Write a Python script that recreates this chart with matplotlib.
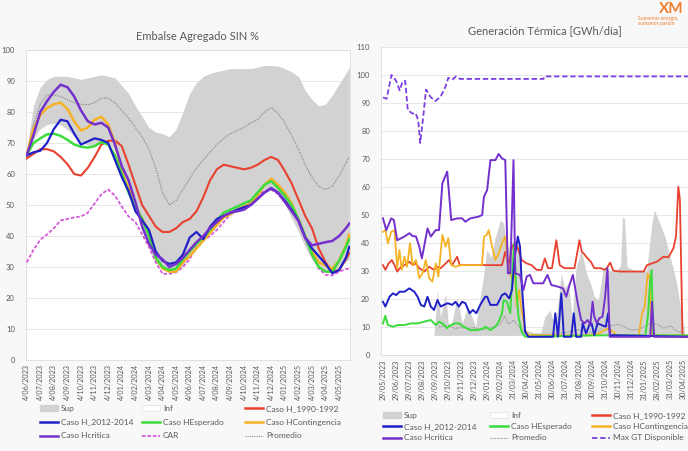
import matplotlib.pyplot as plt
import matplotlib.patches as mpatches
from matplotlib.lines import Line2D
import numpy as np

plt.rcParams['font.family'] = ['Lato', 'DejaVu Sans']

# ---------------- Embalse Agregado SIN % ----------------
# x = months after 4/06/2023
emb_x = np.append(np.arange(0, 24, 0.5), 23.75)
emb_labels = ['4/06/2023', '4/07/2023', '4/08/2023', '4/09/2023', '4/10/2023', '4/11/2023',
              '4/12/2023', '4/01/2024', '4/02/2024', '4/03/2024', '4/04/2024', '4/05/2024',
              '4/06/2024', '4/07/2024', '4/08/2024', '4/09/2024', '4/10/2024', '4/11/2024',
              '4/12/2024', '4/01/2025', '4/02/2025', '4/03/2025', '4/04/2025', '4/05/2025']

emb_sup = [68, 82, 88, 90.5, 91.5, 91.5, 91.5, 91, 90.5, 91,
           91.5, 92, 91.5, 91, 88.5, 86, 82, 78.5, 75, 73.5,
           73, 72, 74.5, 80, 86, 89.5, 91.5, 92.5, 93, 93.5,
           94, 94, 94, 94, 94.5, 95, 95, 94.8, 94, 93,
           91.5, 87, 84, 82, 82.5, 85.5, 89, 92.5, 94.5]
emb_inf = [65, 70, 74, 75.5, 76, 75.5, 74, 72, 70, 69,
           69, 70, 70, 67, 62, 56, 49, 42, 36, 31,
           29, 28, 28, 29.5, 33, 36.5, 39, 42, 44, 45.5,
           46.5, 47.5, 48.5, 50, 52.5, 54.5, 55, 53.5, 50, 45.5,
           41, 36, 32, 29.5, 28.5, 28, 29, 31, 32]
emb_prom = [66, 76, 82.5, 85.5, 85.5, 85, 84, 83, 82.5, 82.3,
            83, 84.5, 84.5, 83, 80.5, 78, 75, 72, 68, 62,
            54, 50, 51.5, 55, 58.5, 62, 64.5, 67, 69.5, 71.5,
            73, 74, 75, 76.5, 77.5, 80, 81.5, 79.5, 76.5, 72.5,
            68, 63, 59, 56, 55, 56, 59.5, 63.5, 65.5]
emb_critica = [66, 72.5, 80, 83.5, 86.5, 88.8, 88, 85, 80.5, 77,
               76, 76.5, 75, 69.5, 62.5, 58, 51, 43, 37.5, 34,
               32.5, 30, 31, 33, 35.5, 38, 40, 42.5, 44.5, 46.5,
               47.5, 48, 48.5, 50, 52, 54, 55.5, 54, 51, 48,
               45, 39.5, 37, 37.5, 38, 38.4, 40, 42.5, 44]
emb_h2012 = [66, 67, 67.5, 70, 74.5, 77.5, 77, 73, 69.5, 70.5,
             71.5, 71, 70, 64.5, 59, 54.5, 48, 45, 42, 35,
             32, 31, 31.5, 34, 39.5, 41.3, 39, 43, 45.5, 46.5,
             47.5, 48.5, 49.3, 50, 52, 54, 55.3, 54, 51.5, 48.5,
             45, 39.5, 36, 33.5, 31, 28, 29, 33, 36.5]
emb_esperado = [66, 70, 71.5, 72.8, 73, 72.3, 71, 69.5, 68.8, 68.5,
                69, 70.3, 69.5, 66, 60, 54, 49.5, 45.5, 40, 33,
                30, 29, 29.5, 32.5, 35, 37.5, 39.5, 42, 45, 47.5,
                48.5, 49.5, 50.5, 51.5, 54, 56.5, 57.7, 55.5, 53, 50,
                45.5, 40, 34, 30, 28.5, 28.5, 32, 36.5, 39]
emb_conting = [66, 74.5, 79, 81.3, 82.5, 83, 81, 77, 74, 75,
               77.5, 78.5, 76, 70, 61, 55.5, 49.5, 45.5, 41.5, 33,
               29.5, 28.5, 28.5, 31.5, 33.5, 36, 38.5, 41, 43.5, 46,
               47, 48.5, 49.5, 50.5, 53, 56.5, 58.5, 56.5, 54, 50.5,
               45.5, 40, 35, 31.5, 30.5, 29.5, 32, 37, 40.5]
emb_h1990 = [65, 66.5, 68, 68, 67.3, 65.5, 63.2, 60, 59.5, 62,
             65.5, 69.5, 70.7, 70.8, 69, 63, 56.5, 50, 46.5, 43,
             41.3, 41.3, 42.5, 44.5, 45.5, 48, 52.5, 58, 61.5, 63,
             62.5, 62, 61.5, 62, 63, 64.5, 65.5, 64.5, 61, 57,
             51.8, 46.5, 42.5, 36, 31.5, 28.5, 29, 32.5, 34.5]
emb_car = [31.5, 35.5, 38.8, 40.5, 42.5, 45, 45.5, 46, 46.3, 47.5,
           50.5, 53.5, 55, 53, 49.5, 46.3, 44.5, 40.5, 36.5, 31.5,
           27.8, 27.8, 28.3, 30, 32.5, 36.5, 38.5, 40, 42, 44.5,
           47, 48.5, 49.5, 51, 53, 54.5, 55, 53.5, 51, 48.5,
           44.5, 39, 34, 29.5, 27.5, 27.3, 28.5, 29.3, 29.5]

# ---------------- Generación Térmica [GWh/día] ----------------
# x = months after 29/05/2023
gt_labels = ['29/05/2023', '29/06/2023', '29/07/2023', '29/08/2023', '29/09/2023', '29/10/2023',
             '29/11/2023', '29/12/2023', '29/01/2024', '29/02/2024', '31/03/2024', '30/04/2024',
             '31/05/2024', '30/06/2024', '31/07/2024', '31/08/2024', '30/09/2024', '31/10/2024',
             '30/11/2024', '31/12/2024', '31/01/2025', '28/02/2025', '31/03/2025', '30/04/2025']

gt_sup_x = [0, 3.9, 4.17, 4.4, 4.8, 5.05, 5.3, 5.68, 6.06, 6.5, 6.82, 7.1, 7.32, 7.7, 7.95,
            8.3, 8.6, 9.0, 9.25, 9.5, 9.8, 10.2, 10.5, 10.7, 10.9, 11.5, 12.1, 12.4, 12.8,
            13.2, 13.66, 13.9, 14.2, 14.5, 14.8, 15.2, 15.6, 15.9, 16.2, 16.5, 16.9, 17.4,
            17.9, 18.2, 18.35, 18.5, 18.7, 19.2, 20.2, 20.6, 20.8, 21.1, 21.6, 22.0, 22.2,
            22.5, 22.9, 23.1]
gt_sup = [7, 7, 23, 13.7, 22, 9, 12, 20.8, 11.3, 17.3, 13.7, 10, 17.3, 28, 37.5,
          35, 42, 48.2, 47, 38, 40, 40, 39, 20, 9, 8, 8, 13.7, 16,
          10, 29.2, 24, 25.6, 13.7, 31.5, 37.5, 29, 25.6, 20.8, 19.6, 31.5, 30,
          30, 32, 49.4, 48.8, 31.5, 30.3, 30.3, 47, 51.8, 48.2, 42.3, 35, 31.5,
          25.6, 13.7, 8]
gt_inf = 7

gt_prom_x = [4.3, 5.0, 5.5, 6.0, 6.5, 7.0, 7.5, 8.0, 8.5, 9.0, 9.3, 9.6, 10.0, 10.5, 11.0,
             12.0, 13.0, 14.0, 15.0, 15.5, 16.0, 16.5, 17.0, 17.5, 18.0, 18.5, 19.0, 19.5,
             20.0, 20.5, 21.0, 21.5, 22.0, 22.5, 23.0]
gt_prom = [10, 10.5, 9.5, 9.8, 9.5, 9.8, 9, 9.5, 10, 11, 14, 11, 12.5, 9.5, 7.5,
           7.2, 7.5, 8, 9, 8.5, 8, 8.5, 10.5, 10.5, 11, 10, 9, 9,
           10, 11.5, 11, 9.5, 10.5, 8.5, 8]

gt_h1990_x = [0, 0.18, 0.43, 0.68, 0.88, 1.09, 1.39, 1.64, 2.02, 2.27, 2.53, 2.78, 3.16, 3.54,
              3.91, 4.17, 4.42, 4.8, 5.05, 5.3, 5.68, 5.88, 9.12, 9.37, 9.62, 9.88, 10.13,
              10.38, 10.63, 11.01, 11.39, 11.77, 12.14, 12.4, 12.65, 12.95, 13.28, 13.54,
              13.91, 14.67, 14.92, 15.05, 15.23, 15.43, 15.56, 15.93, 16.19, 16.7, 16.95,
              17.15, 17.4, 17.65, 18.2, 19.97, 20.23, 20.98, 21.49, 21.87, 22.25, 22.45,
              22.63, 22.75, 22.95, 23.4]
gt_h1990 = [32.1, 30.4, 32.7, 33.9, 32.1, 29.8, 31.5, 32.1, 33.3, 32.1, 32.7, 31, 29.8, 31.5,
            30.4, 31.5, 31, 32.7, 33.9, 32.1, 35.1, 32.1, 32.1, 36.9, 32.1, 38.7, 39.9,
            37.5, 33.9, 32.7, 32.1, 30.4, 30.4, 34.5, 31, 31, 41, 32.1,
            31, 31, 37.5, 41, 36.9, 36, 35.1, 33.3, 31, 31, 30.4,
            31, 33, 30.1, 29.8, 29.8, 32.1, 33.3, 35.1, 34.9, 38.1, 42.3,
            60.1, 55.4, 6.5, 6.5]

gt_h2012_x = [0, 0.18, 0.5, 0.76, 1.01, 1.26, 1.64, 2.02, 2.4, 2.65, 2.9, 3.16, 3.41, 3.66,
              3.91, 4.17, 4.42, 4.67, 4.97, 5.3, 5.56, 5.81, 6.06, 6.31, 6.64, 6.89, 7.15,
              7.45, 7.83, 7.98, 8.23, 8.74, 9.12, 9.37, 9.67, 9.88, 10.13, 10.33, 10.5,
              10.63, 10.89, 11.14, 13.03, 13.2, 13.41, 13.66, 13.86, 14.42, 14.62, 14.8,
              15.18, 15.3, 15.56, 15.81, 15.98, 16.19, 16.44, 16.74, 17.07, 17.25, 17.4, 23.4]
gt_h2012 = [19, 17.3, 20.8, 22, 21.4, 22.6, 22.6, 23.8, 22.6, 20.8, 17.9, 17.3, 20.8, 17.3,
            16.1, 19.6, 17.3, 17.9, 18.5, 17.9, 19, 17.3, 19, 18.5, 14.9, 16.1, 14.9,
            17.9, 20.8, 20.8, 17.9, 17.9, 21.4, 22, 20.2, 23.2, 36.3, 42.3, 38.7,
            25.6, 8.3, 6.5, 6.5, 14.9, 6.5, 22, 6.5, 6.5, 14.9, 6.5,
            6.5, 11.3, 7.7, 10.7, 11.3, 7.1, 11.3, 10.7, 10.1, 14.9, 7.1, 6.5]

gt_esperado_x = [0, 0.18, 0.38, 0.76, 1.14, 1.64, 2.15, 2.65, 3.16, 3.66, 4.04, 4.29, 4.55,
                 4.92, 5.18, 5.56, 5.81, 6.19, 6.69, 7.2, 7.7, 7.85, 8.23, 8.61, 8.86, 9.12,
                 9.24, 9.5, 9.75, 9.88, 10.05, 10.2, 10.38, 10.63, 10.89, 16.3, 17.3, 20.1,
                 20.3, 20.45, 20.58, 20.72, 23.4]
gt_esperado = [11.3, 14, 10.7, 10.1, 10.7, 10.7, 11.3, 11.3, 11.9, 12.5, 10.7, 11.9, 11.3,
               9.5, 10.7, 11.3, 11.3, 10.1, 8.9, 8.9, 9.5, 10.1, 8.9, 10.1, 11.9, 14.9,
               19.6, 19, 14.9, 25.6, 39.9, 24.4, 13.7, 8.3, 6.5, 7, 7, 7,
               14, 25, 30.4, 7, 7]

gt_conting_x = [0, 0.18, 0.38, 0.63, 0.88, 1.09, 1.26, 1.44, 1.64, 1.84, 2.07, 2.27, 2.53,
                2.78, 3.03, 3.28, 3.54, 3.79, 4.04, 4.24, 4.55, 4.8, 5.0, 5.23, 5.56, 5.93,
                7.58, 7.75, 7.95, 8.1, 8.36, 8.61, 8.86, 9.17, 9.37, 9.55, 9.88, 10.05,
                10.25, 10.43, 10.58, 10.89, 11.14, 15.5, 16.5, 17.0, 17.3, 17.7, 17.9,
                19.6, 19.85, 20.05, 20.28, 20.43, 20.58, 23.4]
gt_conting = [44, 44.6, 39.9, 44, 44.6, 31, 37.5, 30.4, 35.1, 31.5, 39.9, 32.1, 33.9,
              27.4, 29.2, 33.9, 27.4, 26.2, 32.7, 28, 42.9, 38.7, 41.7, 32.1, 31.5, 32.1,
              32.1, 42.3, 42.9, 44.6, 38.7, 33.9, 36.3, 40.5, 42.3, 32.7, 27, 33,
              17.3, 23.2, 17.3, 8.9, 7.1, 7, 7.5, 9, 9.5, 8, 7,
              7, 15, 17, 29, 28, 7, 7]

gt_critica_x = [0, 0.25, 0.63, 0.83, 1.09, 1.39, 1.64, 2.02, 2.27, 2.53, 2.78, 2.98, 3.41,
                3.66, 4.04, 4.29, 4.55, 4.92, 5.23, 5.68, 6.06, 6.31, 6.69, 7.32, 7.6, 7.73,
                7.98, 8.23, 8.61, 8.86, 9.12, 9.37, 9.57, 9.75, 10.0, 10.13, 10.5, 10.76,
                11.01, 11.26, 11.52, 11.89, 12.27, 12.6, 12.9, 13.41, 13.79, 14.04, 14.29,
                14.55, 14.92, 15.18, 15.43, 15.68, 15.88, 16.06, 16.19, 16.39, 16.57, 16.82,
                17.02, 17.2, 17.37, 20.48, 20.61, 20.78, 23.4]
gt_critica = [48.8, 44.6, 48.8, 48.2, 41, 41.7, 42.3, 43.5, 42.5, 42.3, 38.7, 34.5, 45.2,
              42.3, 44.6, 44.6, 61.3, 65.5, 48.2, 48.8, 48.8, 47.6, 48.8, 49.4, 50, 56.5,
              58.9, 69.6, 69.6, 71.8, 70.2, 69.6, 29.2, 29.2, 69.6, 29.2, 28.6, 23.2,
              28, 28.6, 25.6, 25.6, 25.6, 28.6, 25, 24.4, 23.8, 20.8, 25,
              28.6, 18.5, 12.5, 11.3, 12.5, 10.7, 19, 13.7, 11.3, 13.1, 13.7,
              20.8, 31, 6.5, 6.5, 19, 6.5, 6.5]

gt_maxgt_x = [0, 0.28, 0.65, 1.0, 1.28, 1.5, 1.7, 1.9, 2.28, 2.5, 2.7, 2.85, 3.08, 3.3,
              3.65, 4.0, 4.4, 4.78, 5.0, 5.3, 5.6, 5.9, 12.3, 12.35, 23.4]
gt_maxgt = [92, 91.5, 100, 98, 94.5, 97.7, 97.9, 87.4, 86.2, 86.4, 83.8, 75.7, 85, 94.8,
            92.1, 90.7, 92.1, 95.7, 99, 98.3, 99.5, 98.6, 98.6, 99.5, 99.5]

# colours
C_SUP = '#d2d2d2'
C_RED = '#e8412f'
C_BLUE = '#2020c8'
C_GREEN = '#3bdc3b'
C_ORANGE = '#f4b224'
C_PURPLE = '#7430cc'
C_CAR = '#d65ad8'
C_PROM = '#8c8c8c'
C_MAX = '#7d3fe0'
C_GRID = '#e3e3e3'
C_TXT = '#595959'

fig = plt.figure(figsize=(6.88, 4.51), dpi=100)
fig.patch.set_facecolor('#f8f8f8')

# ---------------- left panel ----------------
ax1 = fig.add_axes([26 / 688, 1 - 360 / 451, 324 / 688, 310 / 451])
ax1.set_facecolor('white')
ax1.fill_between(emb_x, emb_inf, emb_sup, color=C_SUP, lw=0, zorder=1)
ax1.plot(emb_x, emb_inf, color='white', lw=1.0, zorder=1.5)
ax1.plot(emb_x, emb_prom, color=C_PROM, lw=0.9, ls=(0, (1, 1)), zorder=2)
ax1.plot(emb_x, emb_car, color=C_CAR, lw=1.3, ls=(0, (2, 1)), zorder=3)
ax1.plot(emb_x, emb_h1990, color=C_RED, lw=1.5, zorder=4)
ax1.plot(emb_x, emb_conting, color=C_ORANGE, lw=1.8, zorder=4)
ax1.plot(emb_x, emb_esperado, color=C_GREEN, lw=1.8, zorder=5)
ax1.plot(emb_x, emb_h2012, color=C_BLUE, lw=1.6, zorder=6)
ax1.plot(emb_x, emb_critica, color=C_PURPLE, lw=1.8, zorder=7)
ax1.set_xlim(-0.05, 23.8)
ax1.set_ylim(0, 100)
ax1.set_yticks(range(0, 101, 10))
ax1.set_xticks(range(len(emb_labels)))
ax1.set_xticklabels(emb_labels, rotation=90, fontsize=5.2, color=C_TXT)
ax1.tick_params(axis='y', labelsize=5.5, labelcolor=C_TXT, length=0, pad=8)
ax1.tick_params(axis='x', length=0, pad=3)
ax1.grid(axis='y', color=C_GRID, lw=0.6, zorder=0)
ax1.set_axisbelow(True)
for s in ax1.spines.values():
    s.set_color('#dcdcdc')
    s.set_linewidth(0.6)
fig.text(198 / 688, 1 - 37 / 451, 'Embalse Agregado SIN %', ha='center', va='center',
         fontsize=8, color=C_TXT)

# ---------------- right panel ----------------
ax2 = fig.add_axes([381 / 688, 1 - 355 / 451, 1 - 381 / 688, 308 / 451])
ax2.set_facecolor('white')
ax2.fill_between(gt_sup_x, gt_inf, gt_sup, color=C_SUP, lw=0, zorder=1)
ax2.plot(gt_prom_x, gt_prom, color=C_PROM, lw=0.8, ls=(0, (1, 1)), zorder=2)
ax2.plot(gt_h1990_x, gt_h1990, color=C_RED, lw=1.3, zorder=3)
ax2.plot(gt_conting_x, gt_conting, color=C_ORANGE, lw=1.3, zorder=4)
ax2.plot(gt_esperado_x, gt_esperado, color=C_GREEN, lw=1.4, zorder=5)
ax2.plot(gt_h2012_x, gt_h2012, color=C_BLUE, lw=1.4, zorder=6)
ax2.plot(gt_critica_x, gt_critica, color=C_PURPLE, lw=1.4, zorder=7)
ax2.plot(gt_maxgt_x, gt_maxgt, color=C_MAX, lw=1.3, ls=(0, (3, 1.5)), zorder=7)
ax2.set_xlim(-0.153, 23.37)
ax2.set_ylim(0, 110)
ax2.set_yticks(range(0, 111, 10))
ax2.set_xticks(range(len(gt_labels)))
ax2.set_xticklabels(gt_labels, rotation=90, fontsize=5.2, color=C_TXT)
ax2.tick_params(axis='y', labelsize=5.5, labelcolor=C_TXT, length=0, pad=8)
ax2.tick_params(axis='x', length=0, pad=3)
ax2.grid(axis='y', color=C_GRID, lw=0.6, zorder=0)
ax2.set_axisbelow(True)
for side in ['top', 'right']:
    ax2.spines[side].set_visible(False)
for side in ['left', 'bottom']:
    ax2.spines[side].set_color('#dcdcdc')
    ax2.spines[side].set_linewidth(0.6)
fig.text(545 / 688, 1 - 31 / 451, 'Generación Térmica [GWh/día]', ha='center', va='center',
         fontsize=8, color=C_TXT)

# logo
fig.text(684 / 688, 1 - 2 / 451, 'XM', ha='right', va='top', fontsize=11,
         color='#f07f2d', fontweight='bold')
fig.text(638 / 688, 1 - 21 / 451, 'Sumamos energía,\nsumamos pasión', ha='left', va='center',
         fontsize=3.6, color='#f07f2d', linespacing=1.1)

# ---------------- legends ----------------
sup_h = mpatches.Patch(facecolor=C_SUP, edgecolor=C_SUP)
inf_h = mpatches.Patch(facecolor='white', edgecolor='#e0e0e0', lw=0.5)
h1990_h = Line2D([], [], color=C_RED, lw=1.8)
h2012_h = Line2D([], [], color=C_BLUE, lw=1.8)
esp_h = Line2D([], [], color=C_GREEN, lw=1.8)
cont_h = Line2D([], [], color=C_ORANGE, lw=1.8)
crit_h = Line2D([], [], color=C_PURPLE, lw=1.8)
car_h = Line2D([], [], color=C_CAR, lw=1.3, ls=(0, (2, 1)))
prom_h = Line2D([], [], color=C_PROM, lw=0.8, ls=(0, (1, 1)))
max_h = Line2D([], [], color=C_MAX, lw=1.3, ls=(0, (3, 1.5)))

leg_kw = dict(loc='upper left', frameon=False, fontsize=6, handlelength=2.2,
              handleheight=0.6, handletextpad=0.3, borderpad=0, borderaxespad=0,
              labelspacing=0.8, labelcolor=C_TXT)

left_cols = [
    (40, [sup_h, h2012_h, crit_h], ['Sup', 'Caso H_2012-2014', 'Caso Hcritica']),
    (142, [inf_h, esp_h, car_h], ['Inf', 'Caso HEsperado', 'CAR']),
    (245, [h1990_h, cont_h, prom_h], ['Caso H_1990-1992', 'Caso HContingencia', 'Promedio']),
]
for xpx, hs, ls in left_cols:
    fig.legend(hs, ls, bbox_to_anchor=(xpx / 688, 1 - 405 / 451), **leg_kw)

right_cols = [
    (383, [sup_h, h2012_h, crit_h], ['Sup', 'Caso H_2012-2014', 'Caso Hcritica']),
    (490, [inf_h, esp_h, prom_h], ['Inf', 'Caso HEsperado', 'Promedio']),
    (592, [h1990_h, cont_h, max_h], ['Caso H_1990-1992', 'Caso HContingencia', 'Max GT Disponible']),
]
right_kw = dict(leg_kw, labelspacing=0.5)
for xpx, hs, ls in right_cols:
    fig.legend(hs, ls, bbox_to_anchor=(xpx / 688, 1 - 412 / 451), **right_kw)

fig.savefig('out.png', dpi=100, facecolor=fig.get_facecolor())
